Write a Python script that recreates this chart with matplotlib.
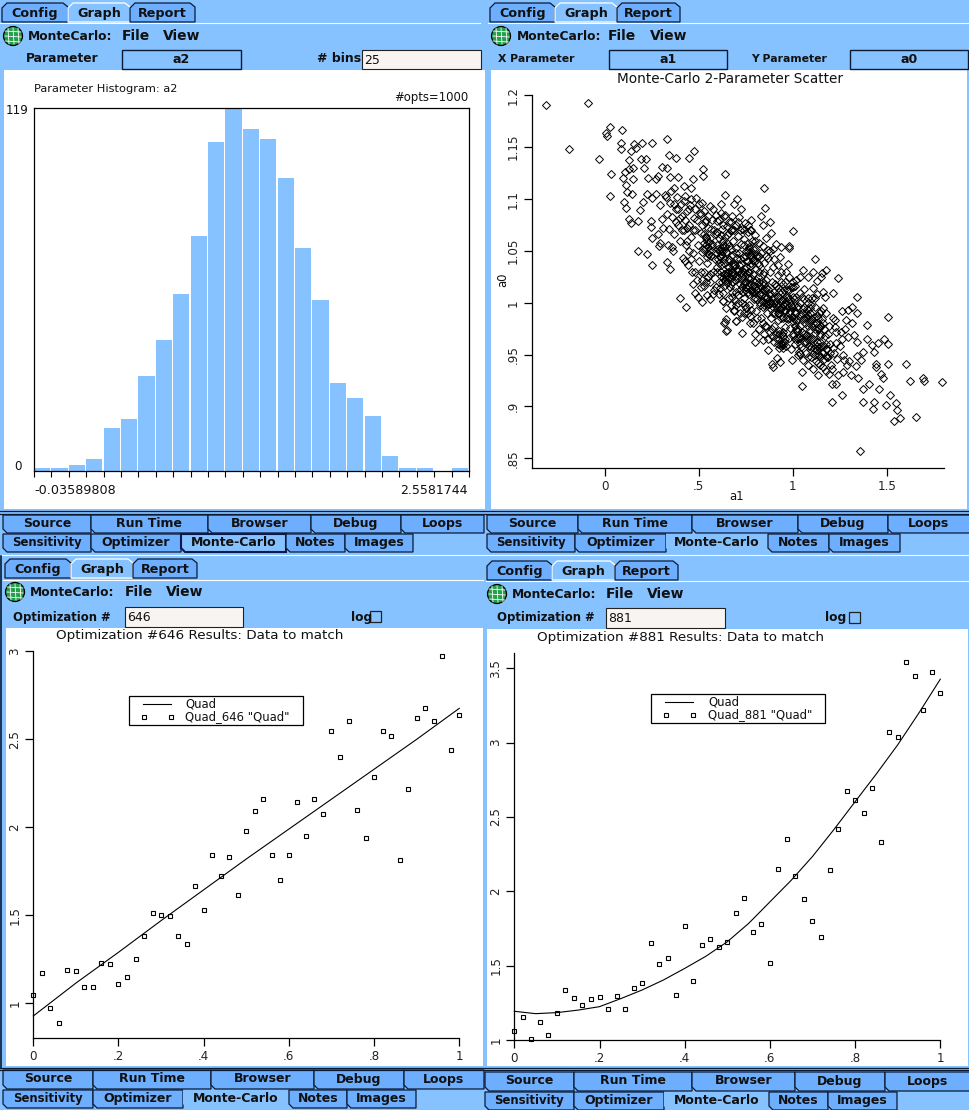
"""Monte-Carlo GUI screenshot: histogram, parameter scatter and two fit panels."""

import matplotlib
matplotlib.use("Agg")
import matplotlib.pyplot as plt
from matplotlib.lines import Line2D
from matplotlib.patches import Circle, Polygon, Rectangle

W, H = 970, 1110
BLUE = "#85C2FF"
TAB_BLUE = "#6EAEFF"
FIELD = "#F8F4F2"

# histogram of a2
hist_low, hist_high = -0.03589808, 2.5581744
hist_counts = [1, 1, 2, 4, 14, 17, 31, 43, 58, 77, 108, 119, 112, 109, 96, 73, 56, 29, 24, 18, 5, 1, 1, 0, 1]

# a1 / a0 scatter; the dense middle is an estimate
scatter_upper = [
    (-.31, 1.191), (-.087, 1.193), (-.19, 1.148), (-.03, 1.139), (.03, 1.169), (.005, 1.164), (.014, 1.161),
    (.094, 1.167), (.087, 1.154), (.087, 1.148), (.158, 1.153), (.167, 1.149), (.142, 1.146), (.197, 1.154),
    (.254, 1.154), (.333, 1.158), (.344, 1.142), (.378, 1.14), (.45, 1.14), (.477, 1.146), (.131, 1.138),
    (.193, 1.139), (.222, 1.139), (.209, 1.13), (.152, 1.13), (.128, 1.129), (.035, 1.124), (.108, 1.126),
    (.099, 1.12), (.152, 1.119), (.113, 1.114), (.12, 1.107), (.147, 1.105), (.03, 1.103), (.105, 1.097),
    (.113, 1.091), (.232, 1.12), (.271, 1.119), (.285, 1.122), (.307, 1.131), (.33, 1.13), (.348, 1.121),
    (.392, 1.121), (.472, 1.119), (.525, 1.129), (.521, 1.122), (.642, 1.124), (.371, 1.111), (.424, 1.113),
    (.461, 1.111), (.223, 1.105), (.25, 1.101), (.324, 1.102), (.273, 1.105), (.202, 1.097), (.188, 1.089),
    (.131, 1.081), (.142, 1.077), (.179, 1.079), (.245, 1.079), (.248, 1.073), (.25, 1.062), (.176, 1.05),
    (.227, 1.047), (.254, 1.036), (.333, 1.039), (.349, 1.033), (.294, 1.058), (.29, 1.055), (.335, 1.056),
    (.356, 1.054), (.4, 1.005), (.85, 1.111), (.64, 1.104), (.702, 1.1), (.69, 1.095), (.723, 1.09),
    (.851, 1.091), (.675, 1.084), (.833, 1.084), (.619, 1.087), (.881, 1.078), (.844, 1.075), (.777, 1.08),
    (.747, 1.077), (.711, 1.078), (.886, 1.067), (1.003, 1.069), (.856, 1.062), (.799, 1.065), (.773, 1.07),
    (.909, 1.057), (.98, 1.055), (.98, 1.053), (.936, 1.054), (.897, 1.052), (.871, 1.051), (1.121, 1.042),
    (.932, 1.044), (.977, 1.037), (1.056, 1.032), (1.109, 1.03), (1.177, 1.032), (1.083, 1.025), (1.039, 1.025),
    (1.243, 1.024), (1.154, 1.029), (1.151, 1.025), (1.131, 1.021), (.982, 1.025), (1.0, 1.02), (.95, 1.018),
    (1.012, 1.016), (.923, 1.014), (1.216, 1.009), (1.344, 1.006), (1.172, 1.006), (1.163, 1.01), (1.109, 1.014),
    (1.127, 1.008), (1.048, 1.006),
]
scatter_lower = [
    (.431, .996), (.48, 1.009), (.498, 1.006), (.52, 1.001), (.543, 1.007), (.56, 1.004), (.578, 1.008),
    (.631, 1.002), (.645, .995), (.69, .992), (.697, .982), (.645, .984), (.635, .98), (.647, .973),
    (.676, 1.006), (.693, 1.003), (.711, 1.007), (1.505, .986), (1.394, .979), (1.317, .98), (1.314, .996),
    (1.34, .99), (1.26, .992), (1.296, .993), (1.283, .983), (1.225, .983), (1.255, .972), (1.296, .967),
    (1.328, .969), (1.394, .965), (1.344, .962), (1.42, .959), (1.488, .965), (1.509, .96), (1.456, .961),
    (1.433, .953), (1.376, .953), (1.344, .949), (1.362, .945), (1.301, .944), (1.275, .945), (1.339, .939),
    (1.443, .941), (1.443, .938), (1.505, .941), (1.603, .941), (1.269, .933), (1.31, .93), (1.349, .927),
    (1.405, .922), (1.376, .917), (1.461, .917), (1.482, .927), (1.468, .931), (1.624, .925), (1.691, .927),
    (1.697, .925), (1.792, .924), (1.207, .922), (1.23, .922), (1.048, .92), (1.048, .933), (1.261, .911),
    (1.211, .904), (1.376, .904), (1.433, .904), (1.429, .898), (1.495, .901), (1.519, .911), (1.549, .903),
    (1.556, .897), (1.541, .886), (1.573, .889), (1.654, .89), (1.356, .857), (1.16, .938), (1.195, .931),
    (1.136, .942), (1.204, .94), (1.238, .946), (1.083, .948), (1.039, .951), (.994, .945), (.932, .943),
    (.918, .947), (.888, .941), (.897, .938), (.87, .954), (.95, .959), (1.078, .965), (1.131, .954),
    (1.177, .949), (1.216, .956), (1.036, .953), (1.19, .97), (1.145, .978), (1.225, .977), (1.145, .962),
    (1.233, .961), (1.083, .978), (1.021, .973), (.95, .972), (.888, .968), (.844, .964), (.799, .97),
    (.799, .962), (.732, .971), (.649, .974), (.64, .981), (.697, .982), (.732, .986), (.773, .98),
    (.773, .987), (.688, .993), (.631, 1.002), (.747, .998),
]
scatter_core = [
    (.295, 1.094), (.31, 1.072), (.285, 1.066), (.32, 1.104), (.33, 1.086), (.305, 1.081), (.34, 1.071), (.345, 1.096),
    (.355, 1.108), (.36, 1.083), (.37, 1.066), (.365, 1.05), (.38, 1.09), (.385, 1.102), (.39, 1.075), (.40, 1.06),
    (.405, 1.095), (.41, 1.084), (.415, 1.043), (.42, 1.07), (.43, 1.103), (.435, 1.056), (.44, 1.088), (.445, 1.036),
    (.45, 1.075), (.455, 1.094), (.46, 1.063), (.465, 1.03), (.47, 1.048), (.475, 1.082), (.48, 1.07), (.485, 1.101),
    (.49, 1.022), (.495, 1.056), (.50, 1.04), (.505, 1.087), (.51, 1.067), (.515, 1.03), (.52, 1.096), (.525, 1.052),
    (.53, 1.016), (.535, 1.078), (.54, 1.062), (.545, 1.038), (.55, 1.084), (.555, 1.047), (.56, 1.028), (.565, 1.071),
    (.57, 1.057), (.575, 1.09), (.58, 1.012), (.585, 1.042), (.59, 1.066), (.595, 1.034), (.60, 1.079), (.603, 1.052),
    (.607, 1.02), (.61, 1.062), (.613, 1.044), (.617, 1.095), (.62, 1.03), (.623, 1.071), (.627, 1.056), (.63, 1.009),
    (.633, 1.084), (.637, 1.038), (.64, 1.063), (.643, 1.049), (.647, 1.024), (.65, 1.074), (.653, 1.058), (.657, 1.034),
    (.66, 1.042), (.663, 1.067), (.667, 1.015), (.67, 1.052), (.673, 1.078), (.677, 1.029), (.68, 1.046), (.683, 1.06),
    (.687, 1.037), (.69, 1.07), (.693, 1.022), (.697, 1.053), (.70, 1.01), (.703, 1.043), (.707, 1.064), (.71, 1.031),
    (.713, 1.083), (.717, 1.048), (.72, 1.018), (.723, 1.057), (.727, 1.037), (.73, 1.071), (.733, 1.026), (.737, 1.044),
    (.74, 1.005), (.743, 1.061), (.747, 1.033), (.75, 1.05), (.753, 1.015), (.757, 1.04), (.76, 1.068), (.763, 1.024),
    (.767, 1.054), (.77, .998), (.773, 1.035), (.777, 1.046), (.78, 1.012), (.783, 1.06), (.787, 1.028), (.79, 1.041),
    (.793, 1.004), (.797, 1.02), (.80, 1.052), (.803, 1.033), (.807, .992), (.81, 1.012), (.813, 1.044), (.817, 1.025),
    (.82, 1.001), (.823, 1.036), (.827, 1.016), (.83, .985), (.833, 1.048), (.837, 1.007), (.84, 1.028), (.843, .996),
    (.847, 1.018), (.85, 1.038), (.853, .978), (.857, 1.005), (.86, 1.022), (.863, .99), (.867, 1.013), (.87, 1.043),
    (.873, .999), (.877, 1.03), (.88, .972), (.883, 1.008), (.887, .985), (.89, 1.02), (.893, .996), (.897, 1.034),
    (.90, .978), (.903, 1.006), (.907, .99), (.91, 1.016), (.913, .966), (.917, .998), (.92, 1.027), (.923, .983),
    (.927, 1.01), (.93, .973), (.933, .994), (.937, 1.02), (.94, .96), (.943, 1.003), (.947, .985), (.95, .968),
    (.953, 1.012), (.957, .993), (.96, .977), (.963, 1.03), (.967, .958), (.97, .999), (.973, .984), (.977, 1.006),
    (.98, .966), (.983, .99), (.987, .976), (.99, 1.015), (.993, .955), (.997, .996), (1.0, .982), (1.003, .968),
    (1.007, 1.004), (1.01, .99), (1.013, .96), (1.017, .975), (1.02, 1.022), (1.023, .984), (1.027, .95), (1.03, .997),
    (1.033, .966), (1.037, .978), (1.04, 1.009), (1.043, .957), (1.047, .988), (1.05, .972), (1.053, .945), (1.057, .994),
    (1.06, .962), (1.063, 1.013), (1.067, .98), (1.07, .952), (1.073, .969), (1.077, .986), (1.08, .94), (1.083, 1.0),
    (1.087, .958), (1.09, .974), (1.093, .99), (1.097, .948), (1.10, .965), (1.103, 1.005), (1.107, .936), (1.11, .98),
    (1.113, .956), (1.117, .971), (1.12, .996), (1.123, .944), (1.127, .962), (1.13, .987), (1.133, .93), (1.137, .975),
    (1.14, .95), (1.143, .968), (1.147, .94), (1.15, .992), (1.155, .958), (1.16, .98), (1.165, .946), (1.17, .968),
    (1.175, .934), (1.18, .99), (1.185, .955), (1.19, .948), (1.195, .978), (1.20, .96), (1.21, .936), (1.215, .985),
    (1.22, .952), (1.23, .972), (1.24, .93), (1.25, .958), (1.26, .965), (1.27, .95), (1.28, .975), (1.29, .94),
    (.72, 1.042), (.74, 1.056), (.76, 1.03), (.78, 1.024), (.80, 1.015), (.82, 1.03), (.84, 1.012), (.86, 1.0),
    (.62, 1.05), (.64, 1.028), (.66, 1.055), (.68, 1.03), (.70, 1.048), (.90, 1.0), (.92, .99), (.94, .985),
    (.96, 1.0), (.98, .985), (1.0, .97), (1.02, .99), (1.04, .968), (1.06, .985), (1.08, .968), (1.1, .982),
    (.725, 1.03), (.745, 1.02), (.765, 1.04), (.785, 1.01), (.805, 1.022), (.825, 1.008), (.845, 1.03), (.865, 1.006),
    (.885, 1.0), (.905, 1.018), (.925, .97), (.945, .97), (.965, .985), (.985, 1.0), (1.005, .985), (1.025, .966),
]
# the dark knots where diamonds pile up on each other
scatter_knots = [
    (.53, 1.058), (.54, 1.056), (.545, 1.06), (.55, 1.054), (.535, 1.052), (.555, 1.059), (.56, 1.051), (.54, 1.063),
    (.53, 1.066), (.56, 1.062), (.55, 1.047), (.545, 1.044), (.52, 1.049), (.565, 1.045), (.57, 1.055),
    (.60, 1.048), (.61, 1.05), (.615, 1.045), (.62, 1.053), (.605, 1.042), (.625, 1.046), (.63, 1.05), (.61, 1.038),
    (.62, 1.036), (.635, 1.042), (.64, 1.055), (.598, 1.056), (.63, 1.06), (.65, 1.048), (.655, 1.04),
    (.62, 1.026), (.63, 1.024), (.635, 1.028), (.64, 1.021), (.625, 1.02), (.645, 1.026), (.65, 1.019), (.635, 1.016),
    (.66, 1.024), (.655, 1.03), (.615, 1.014), (.67, 1.018),
    (.66, 1.034), (.67, 1.032), (.675, 1.038), (.68, 1.027), (.685, 1.035), (.69, 1.029), (.695, 1.036), (.70, 1.026),
    (.705, 1.032), (.71, 1.024), (.67, 1.024), (.68, 1.02), (.715, 1.036), (.72, 1.028),
    (.72, 1.012), (.73, 1.015), (.735, 1.01), (.74, 1.018), (.745, 1.012), (.75, 1.02), (.755, 1.028), (.73, 1.022),
    (.74, 1.03), (.75, 1.034), (.76, 1.016), (.765, 1.024), (.77, 1.03), (.775, 1.018), (.76, 1.01), (.77, 1.008),
    (.75, 1.045), (.76, 1.05), (.77, 1.052), (.775, 1.046), (.78, 1.05), (.785, 1.043), (.79, 1.052), (.795, 1.047),
    (.8, 1.04), (.765, 1.058), (.78, 1.038), (.81, 1.046), (.815, 1.038), (.82, 1.045),
    (.785, 1.012), (.79, 1.016), (.795, 1.01), (.80, 1.005), (.805, 1.012), (.81, 1.004), (.815, 1.014), (.82, 1.02),
    (.825, .998), (.83, 1.01), (.835, 1.002), (.84, 1.02), (.845, 1.006), (.85, .998), (.855, 1.012), (.86, 1.014),
    (.865, .998), (.87, 1.002), (.875, 1.008), (.88, 1.0), (.885, .994), (.89, 1.004), (.895, .99), (.90, 1.01),
    (.91, 1.002), (.915, .994), (.92, 1.006), (.925, .998), (.93, .99), (.935, 1.002), (.94, .994), (.945, 1.01),
    (.95, .998), (.955, 1.004), (.96, .992), (.965, 1.006), (.97, 1.012), (.975, .996), (.98, 1.004), (.985, .992),
    (.99, .998), (.995, .986), (1.0, 1.006), (1.005, .998), (1.01, .978), (1.015, .992), (1.02, .982), (1.025, .996),
    (1.05, .99), (1.055, .984), (1.06, .996), (1.065, .99), (1.07, .985), (1.075, .994), (1.08, .988), (1.085, .98),
    (1.09, .995), (1.095, .984), (1.105, .978), (1.115, .985), (1.12, .975), (1.125, .98), (1.135, .985), (1.14, .976),
    (1.145, .97), (1.15, .978), (1.155, .984), (1.165, .975), (.94, .958), (.945, .962), (.95, .956), (.955, .962),
    (.96, .965), (.93, .956), (1.125, .954), (1.13, .958), (1.135, .951), (1.14, .957), (1.12, .95), (1.145, .948),
    (1.16, .952), (1.165, .958), (1.175, .955), (1.18, .96), (1.185, .948), (1.2, .952), (1.045, .965), (1.06, .97),
    (1.07, .962), (1.085, .965), (1.09, .955), (1.1, .957), (1.11, .965), (1.04, .96), (1.03, .975), (1.01, .965),
    (.37, 1.095), (.38, 1.078), (.39, 1.09), (.40, 1.082), (.41, 1.07), (.42, 1.098), (.43, 1.08), (.44, 1.072),
    (.45, 1.09), (.46, 1.1), (.47, 1.07), (.48, 1.09), (.49, 1.08), (.50, 1.095), (.51, 1.086), (.52, 1.075),
    (.53, 1.088), (.54, 1.08), (.55, 1.072), (.56, 1.093), (.57, 1.08), (.58, 1.07), (.59, 1.085), (.60, 1.068),
    (.61, 1.08), (.62, 1.065), (.63, 1.075), (.64, 1.085), (.65, 1.065), (.66, 1.078), (.67, 1.07), (.68, 1.07),
    (.70, 1.075), (.72, 1.07), (.74, 1.07), (.76, 1.075), (.78, 1.07), (.80, 1.06), (.82, 1.058), (.84, 1.055),
    (.86, 1.045), (.88, 1.05), (.90, 1.042), (.92, 1.036), (.94, 1.03), (.96, 1.02), (.98, 1.012), (1.0, 1.015),
    (1.02, 1.006), (1.04, 1.0), (1.06, 1.004), (1.08, 1.005), (1.1, .998), (1.12, 1.005), (1.14, .99), (1.16, .995),
    (.56, 1.02), (.575, 1.03), (.59, 1.015), (.60, 1.03), (.61, 1.008), (.55, 1.025), (.54, 1.02), (.53, 1.03),
    (.52, 1.022), (.51, 1.015), (.48, 1.03), (.47, 1.018), (.46, 1.042), (.45, 1.05), (.44, 1.06), (.43, 1.04),
    (.66, 1.005), (.67, .998), (.68, 1.01), (.70, .998), (.71, 1.0), (.72, .99), (.73, 1.0), (.74, .99), (.75, .995),
    (.76, .99), (.78, .993), (.79, .98), (.81, .985), (.82, .975), (.84, .98), (.85, .97), (.86, .978), (.87, .965),
    (.89, .975), (.90, .962), (.91, .97), (.92, .96), (.93, .965),
]

# optimization #646 data and fit
x_646 = [i / 50 for i in range(51)]
y_646 = [1.045, 1.17, .972, .886, 1.188, 1.182, 1.09, 1.09, 1.231, 1.222, 1.108, 1.148, 1.25, 1.381, 1.511, 1.5, 1.494,
         1.381, 1.335, 1.665, 1.528, 1.841, 1.722, 1.83, 1.614, 1.977, 2.091, 2.159, 1.841, 1.699, 1.841, 2.142, 1.949,
         2.159, 2.074, 2.545, 2.398, 2.602, 2.097, 1.938, 2.284, 2.545, 2.517, 1.814, 2.216, 2.619, 2.676, 2.602, 2.972,
         2.438, 2.636]
fit_x_646 = [0, .1, .2, .3, .4, .5, .6, .7, .8, .9, 1]
fit_y_646 = [.928, 1.115, 1.29, 1.47, 1.645, 1.82, 1.99, 2.16, 2.33, 2.5, 2.676]

# optimization #881 data and fit
x_881 = [i / 50 for i in range(51)]
y_881 = [1.06, 1.154, 1.011, 1.121, 1.034, 1.181, 1.336, 1.282, 1.235, 1.275, 1.289, 1.208, 1.295, 1.208, 1.349, 1.383,
         1.651, 1.51, 1.55, 1.302, 1.765, 1.396, 1.638, 1.678, 1.624, 1.658, 1.852, 1.953, 1.725, 1.779, 1.517, 2.154,
         2.351, 2.107, 1.946, 1.799, 1.691, 2.141, 2.418, 2.673, 2.613, 2.526, 2.694, 2.331, 3.07, 3.036, 3.54, 3.446,
         3.218, 3.473, 3.332]
fit_x_881 = [0, .05, .1, .15, .2, .25, .3, .35, .4, .45, .5, .55, .6, .65, .7, .75, .8, .85, .9, .95, 1]
fit_y_881 = [1.195, 1.179, 1.186, 1.203, 1.226, 1.28, 1.338, 1.405, 1.483, 1.565, 1.662, 1.785, 1.93, 2.075, 2.235, 2.415,
             2.603, 2.79, 2.985, 3.2, 3.426]

a1_ticks = [0, .5, 1, 1.5]
a1_tick_labels = ["0", ".5", "1", "1.5"]
a0_ticks = [.85, .9, .95, 1, 1.05, 1.1, 1.15, 1.2]
a0_tick_labels = [".85", ".9", ".95", "1", "1.05", "1.1", "1.15", "1.2"]
frac_ticks = [0, .2, .4, .6, .8, 1]
frac_tick_labels = ["0", ".2", ".4", ".6", ".8", "1"]
y_ticks_646 = [1, 1.5, 2, 2.5, 3]
y_tick_labels_646 = ["1", "1.5", "2", "2.5", "3"]
y_ticks_881 = [1, 1.5, 2, 2.5, 3, 3.5]
y_tick_labels_881 = ["1", "1.5", "2", "2.5", "3", "3.5"]

top_tabs = ["Config", "Graph", "Report"]
row1_tabs = ["Source", "Run Time", "Browser", "Debug", "Loops"]
row2_tabs = ["Sensitivity", "Optimizer", "Monte-Carlo", "Notes", "Images"]


def axes_px(fig, left, top, right, bottom):
    ax = fig.add_axes([left / W, 1 - bottom / H, (right - left) / W, (bottom - top) / H])
    ax.patch.set_visible(False)
    return ax


def label(ui, x, y, text, size=9, bold=True, ha="center", **kwargs):
    ui.text(x, y, text, fontsize=size, fontweight="bold" if bold else "normal", ha=ha, va="center", color="#111111", **kwargs)


def tab(ui, x0, x1, y0, y1, text, face=TAB_BLUE, edge="#0A1A33", lw=0.9, size=9):
    corner = 4
    pts = [(x0, y0), (x1, y0), (x1, y1), (x0 + corner, y1), (x0, y1 - corner)]
    ui.add_patch(Polygon(pts, closed=True, facecolor=face, edgecolor=edge, linewidth=lw, joinstyle="miter"))
    label(ui, (x0 + x1) / 2, (y0 + y1) / 2 - 0.5, text, size=size)


def top_tab_row(ui, edges, y0, y1):
    for i, name in enumerate(top_tabs):
        x0, x1 = edges[i], edges[i + 1]
        selected = name == "Graph"
        pts = [(x0, y1), (x0, y0 + 5), (x0 + 5, y0), (x1 - 5, y0), (x1, y0 + 4), (x1, y1)]
        ui.add_patch(Polygon(pts, closed=True, facecolor=BLUE if selected else TAB_BLUE,
                             edgecolor="white" if selected else "#0A1A33", linewidth=0.9))
        label(ui, (x0 + x1) / 2, (y0 + y1) / 2 + 0.5, name, size=9.2)


def bottom_tabs(ui, row1_edges, row2_edges, y0, y1, y2, selected_edge="none"):
    for i, name in enumerate(row1_tabs):
        tab(ui, row1_edges[i], row1_edges[i + 1], y0, y1, name)
    for i, name in enumerate(row2_tabs):
        size = 8.4 if name == "Sensitivity" else 9
        if name == "Monte-Carlo":
            tab(ui, row2_edges[i], row2_edges[i + 1], y1 + 1, y2, name, face=BLUE, edge=selected_edge,
                lw=1.5 if selected_edge != "none" else 0)
        else:
            tab(ui, row2_edges[i], row2_edges[i + 1], y1 + 1, y2, name, size=size)


def menu_row(ui, icon_x, y, name_x, file_x, view_x):
    ui.add_patch(Circle((icon_x, y), 9.5, facecolor="#22A04C", edgecolor="black", linewidth=0.9))
    for off in (-5, 0, 5):
        ui.add_line(Line2D([icon_x - 8, icon_x + 8], [y + off, y + off + 1], color="white", lw=0.6))
        ui.add_line(Line2D([icon_x + off, icon_x + off + 1], [y - 8, y + 8], color="white", lw=0.6))
    label(ui, name_x, y, "MonteCarlo:", size=8.8, ha="left")
    label(ui, file_x, y, "File", size=10, ha="left")
    label(ui, view_x, y, "View", size=10, ha="left")


def button(ui, x0, x1, y0, y1, text):
    ui.add_patch(Rectangle((x0, y0), x1 - x0, y1 - y0, facecolor=BLUE, edgecolor="#0A1A33", linewidth=1.0))
    label(ui, (x0 + x1) / 2, (y0 + y1) / 2, text, size=9)


def field(ui, x0, x1, y0, y1, text):
    ui.add_patch(Rectangle((x0, y0), x1 - x0, y1 - y0, facecolor=FIELD, edgecolor="#222222", linewidth=0.8))
    label(ui, x0 + 2, (y0 + y1) / 2 + 0.5, text, size=9, bold=False, ha="left")


def legend_box(ui, x0, x1, y0, y1, handle_x, text_x, name):
    ui.add_patch(Rectangle((x0, y0), x1 - x0, y1 - y0, facecolor="white", edgecolor="black", linewidth=0.9))
    y_line = y0 + 8
    y_mark = y0 + 21
    ui.add_line(Line2D([handle_x, handle_x + 28], [y_line, y_line], color="black", lw=0.8))
    ui.add_line(Line2D([handle_x + 1, handle_x + 28], [y_mark, y_mark], color="none", marker="s", markersize=3.4,
                       markerfacecolor="white", markeredgecolor="black", markeredgewidth=0.8))
    label(ui, text_x, y_line, "Quad", size=8.4, bold=False, ha="left")
    label(ui, text_x, y_mark - 0.5, name, size=8.4, bold=False, ha="left")


def style_xy(ax, xticks, xlabels, yticks, ylabels):
    ax.spines["top"].set_visible(False)
    ax.spines["right"].set_visible(False)
    ax.spines["left"].set_linewidth(0.9)
    ax.spines["bottom"].set_linewidth(0.9)
    ax.set_xticks(xticks)
    ax.set_xticklabels(xlabels)
    ax.set_yticks(yticks)
    ax.set_yticklabels(ylabels, rotation=90, va="center")
    ax.tick_params(axis="both", length=5.5, width=0.9, labelsize=8.6, pad=3, labelcolor="#222222")


def fit_panel(fig, box, x, y, fit_x, fit_y, ylim, yticks, yticklabels):
    ax = axes_px(fig, *box)
    ax.plot(fit_x, fit_y, color="black", lw=0.8, clip_on=False)
    ax.plot(x, y, ls="none", marker="s", markersize=3.4, markerfacecolor="none", markeredgecolor="black",
            markeredgewidth=0.8, clip_on=False)
    ax.set_xlim(0, 1)
    ax.set_ylim(*ylim)
    style_xy(ax, frac_ticks, frac_tick_labels, yticks, yticklabels)
    return ax


def main():
    plt.rcParams["font.family"] = "DejaVu Sans"
    fig = plt.figure(figsize=(W / 100, H / 100), dpi=100, facecolor=BLUE)

    ui = fig.add_axes([0, 0, 1, 1], zorder=0)
    ui.set_xlim(0, W)
    ui.set_ylim(H, 0)
    ui.axis("off")

    # white plot areas
    for x0, y0, x1, y1 in [(4, 70, 485, 509), (491, 70, 967, 509), (6, 628, 483, 1066), (487, 629, 968, 1066)]:
        ui.add_patch(Rectangle((x0, y0), x1 - x0, y1 - y0, facecolor="white", edgecolor="none"))

    # separators between the windows
    for y0, x0, x1 in [(23, 0, 480), (23, 488, 970), (580, 3, 483), (581, 486, 970), (555, 0, 970)]:
        ui.add_line(Line2D([x0, x1], [y0, y0], color="white", lw=0.8))
    for y0 in (511, 513.5, 1068, 1070):
        ui.add_line(Line2D([0, W], [y0, y0], color="#0A1A33", lw=0.9))
    ui.add_line(Line2D([0.5, 0.5], [556, 1068], color="#0A1A33", lw=1.2))

    top_tab_row(ui, [2, 68, 130, 195], 3, 22)
    top_tab_row(ui, [490, 555, 617, 680], 3, 22)
    top_tab_row(ui, [5, 71, 133, 197], 559, 578)
    top_tab_row(ui, [487, 552, 615, 678], 561, 580)

    menu_row(ui, 13, 36, 28, 122, 163)
    menu_row(ui, 501, 36, 517, 608, 650)
    menu_row(ui, 15, 592, 30, 125, 166)
    menu_row(ui, 497, 594, 512, 606, 647)

    # histogram window controls
    label(ui, 62, 59, "Parameter", size=8.8)
    button(ui, 122, 241, 50, 69, "a2")
    label(ui, 361, 59, "# bins", size=9, ha="right")
    field(ui, 362, 481, 50, 69, "25")
    label(ui, 34, 89, "Parameter Histogram: a2", size=8.2, bold=False, ha="left")
    label(ui, 468, 98, "#opts=1000", size=8.4, bold=False, ha="right")
    label(ui, 29, 110, "119", size=8.6, bold=False, ha="right")
    label(ui, 22, 466, "0", size=8.6, bold=False, ha="right")
    label(ui, 34, 490, "-0.03589808", size=9.2, bold=False, ha="left")
    label(ui, 468, 490, "2.5581744", size=9, bold=False, ha="right")

    # scatter window controls
    label(ui, 536, 59, "X Parameter", size=7.8)
    button(ui, 609, 727, 50, 69, "a1")
    label(ui, 789, 59, "Y Parameter", size=7.8)
    button(ui, 850, 968, 50, 69, "a0")
    label(ui, 730, 79, "Monte-Carlo 2-Parameter Scatter", size=9.8, bold=False)
    label(ui, 503, 280, "a0", size=8.4, bold=False, rotation=90)
    label(ui, 737, 497, "a1", size=8.4, bold=False)

    # fit window controls
    label(ui, 62, 617, "Optimization #", size=8.4)
    field(ui, 125, 243, 607, 627, "646")
    label(ui, 362, 617, "log", size=8.8)
    ui.add_patch(Rectangle((370, 611), 11, 11, facecolor=BLUE, edgecolor="#222222", linewidth=0.9))
    label(ui, 200, 635, "Optimization #646 Results: Data to match", size=9.7, bold=False)

    label(ui, 546, 618, "Optimization #", size=8.4)
    field(ui, 606, 725, 608, 628, "881")
    label(ui, 836, 618, "log", size=8.8)
    ui.add_patch(Rectangle((849, 612), 11, 11, facecolor=BLUE, edgecolor="#222222", linewidth=0.9))
    label(ui, 681, 637, "Optimization #881 Results: Data to match", size=9.7, bold=False)

    legend_box(ui, 129, 303, 696, 724.5, 143, 185, 'Quad_646 "Quad"')
    legend_box(ui, 651, 825, 694, 722.5, 665, 708, 'Quad_881 "Quad"')

    bottom_tabs(ui, [3, 91, 208, 311, 401, 484], [3, 91, 181, 286, 345, 413], 515, 533, 552, selected_edge="#0A1A50")
    bottom_tabs(ui, [487, 578, 692, 798, 888, 970], [487, 575, 666, 768, 829, 900], 515, 533, 552)
    bottom_tabs(ui, [3, 93, 211, 314, 404, 484], [3, 93, 183, 289, 347, 416], 1070, 1089, 1108)
    bottom_tabs(ui, [485, 574, 692, 795, 885, 970], [485, 574, 664, 769, 828, 897], 1072, 1091, 1110)

    # histogram
    ax = axes_px(fig, 34, 108, 469, 471)
    n_bins = len(hist_counts)
    bin_width = (hist_high - hist_low) / n_bins
    edges = [hist_low + i * bin_width for i in range(n_bins + 1)]
    ax.bar(edges[:-1], hist_counts, width=bin_width * 0.93, align="edge", color=BLUE, linewidth=0)
    ax.set_xlim(hist_low, hist_high)
    ax.set_ylim(0, 119)
    ax.set_xticks(edges)
    ax.set_xticklabels([])
    ax.set_yticks([])
    ax.tick_params(axis="x", length=4.5, width=0.8)
    for spine in ax.spines.values():
        spine.set_linewidth(0.9)

    # scatter
    ax = axes_px(fig, 531.7, 95.3, 944, 468.3)
    points = scatter_upper + scatter_core + scatter_lower + scatter_knots
    ax.plot([p[0] for p in points], [p[1] for p in points], ls="none", marker="D", markersize=3.7,
            markerfacecolor="none", markeredgecolor="black", markeredgewidth=0.7, clip_on=False)
    ax.set_xlim(-.388, 1.805)
    ax.set_ylim(.8404, 1.2)
    style_xy(ax, a1_ticks, a1_tick_labels, a0_ticks, a0_tick_labels)

    # fits
    fit_panel(fig, (33.3, 651.3, 459.3, 1038), x_646, y_646, fit_x_646, fit_y_646, (.803, 3),
              y_ticks_646, y_tick_labels_646)
    fit_panel(fig, (514.3, 653.3, 940.3, 1040.3), x_881, y_881, fit_x_881, fit_y_881, (1, 3.6),
              y_ticks_881, y_tick_labels_881)

    fig.savefig("out.png", dpi=100, facecolor=BLUE)


if __name__ == "__main__":
    main()
